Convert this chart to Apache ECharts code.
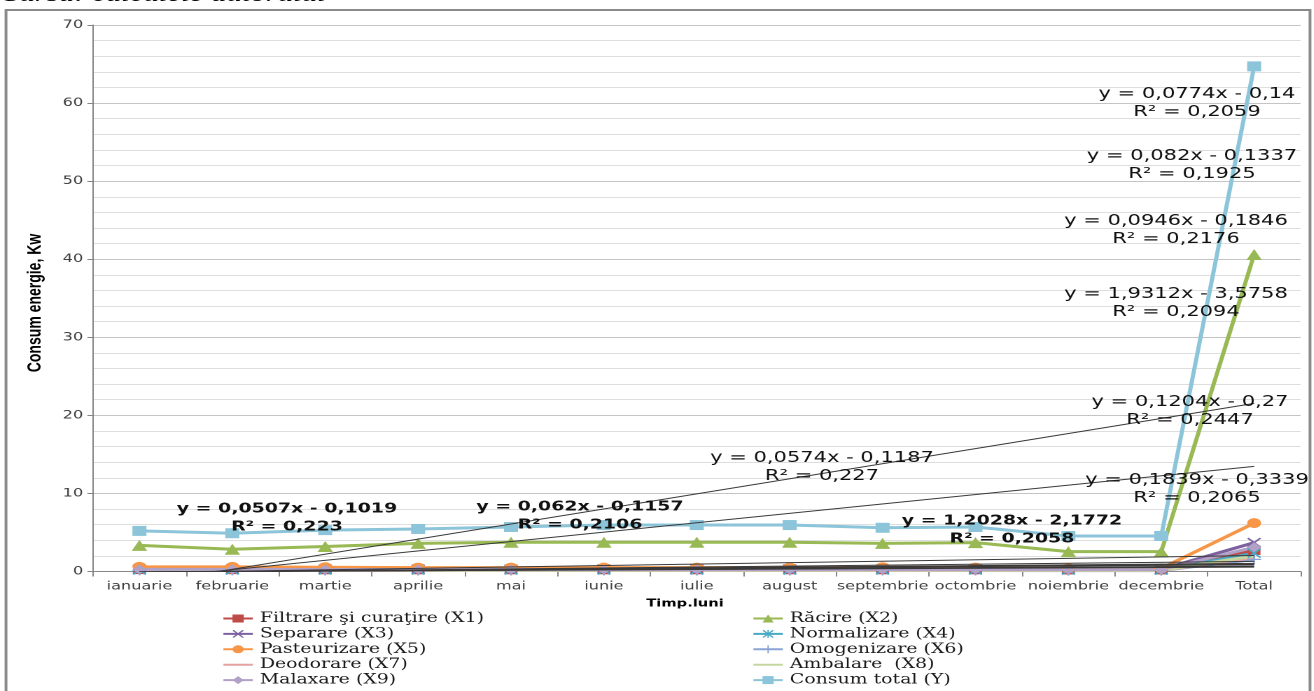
<!DOCTYPE html>
<html>
<head>
<meta charset="utf-8">
<script src="https://cdn.jsdelivr.net/npm/echarts@6/dist/echarts.min.js"></script>
<style>
  html, body { margin: 0; padding: 0; background: #fff; overflow: hidden; }
  #chart { height: 691px; transform-origin: 0 0; }
</style>
</head>
<body>
<div id="chart"></div>
<script>
// Months plus the yearly total
const months = ['ianuarie', 'februarie', 'martie', 'aprilie', 'mai', 'iunie', 'iulie',
  'august', 'septembrie', 'octombrie', 'noiembrie', 'decembrie', 'Total'];

// Energy consumption per process stage, kW
const filtrare     = [0.24, 0.24, 0.22, 0.22, 0.22, 0.22, 0.22, 0.22, 0.22, 0.22, 0.2, 0.2, 2.7];
const racire       = [3.35, 2.85, 3.2, 3.6, 3.75, 3.75, 3.75, 3.75, 3.6, 3.7, 2.55, 2.55, 40.6];
const separare     = [0.3, 0.3, 0.3, 0.3, 0.3, 0.32, 0.32, 0.32, 0.32, 0.32, 0.28, 0.28, 3.7];
const normalizare  = [0.2, 0.2, 0.19, 0.19, 0.19, 0.2, 0.2, 0.2, 0.2, 0.2, 0.17, 0.17, 2.35];
const pasteurizare = [0.6, 0.6, 0.55, 0.5, 0.5, 0.5, 0.5, 0.5, 0.55, 0.5, 0.4, 0.4, 6.2];
const omogenizare  = [0.14, 0.14, 0.13, 0.13, 0.13, 0.13, 0.13, 0.13, 0.13, 0.13, 0.12, 0.12, 1.55];
const deodorare    = [0.16, 0.16, 0.15, 0.15, 0.15, 0.15, 0.15, 0.15, 0.15, 0.15, 0.13, 0.13, 1.8];
const ambalare     = [0.17, 0.17, 0.17, 0.17, 0.17, 0.17, 0.17, 0.17, 0.17, 0.17, 0.15, 0.15, 2.0];
const malaxare     = [0.28, 0.28, 0.26, 0.26, 0.26, 0.26, 0.26, 0.26, 0.26, 0.26, 0.24, 0.24, 3.1];
const consumTotal  = [5.2, 4.9, 5.3, 5.45, 5.7, 5.95, 5.95, 5.95, 5.6, 5.7, 4.55, 4.55, 64.7];

// Linear trend lines: y = slope*x - intercept, with R²
const trendSlopes     = ['0,0507', '0,062', '0,0574', '1,2028', '0,0774', '0,082', '0,0946', '1,9312', '0,1204', '0,1839'];
const trendIntercepts = ['0,1019', '0,1157', '0,1187', '2,1772', '0,14', '0,1337', '0,1846', '3,5758', '0,27', '0,3339'];
const trendR2         = ['0,223', '0,2106', '0,227', '0,2058', '0,2059', '0,1925', '0,2176', '0,2094', '0,2447', '0,2065'];

// Y axis ticks
const yTicks = [0, 10, 20, 30, 40, 50, 60, 70];

// The whole drawing is stretched horizontally by K
const K = 1.4;
const W = 1314 / K;
const sx = x => x / K;

const dom = document.getElementById('chart');
dom.style.width = W + 'px';
dom.style.transform = 'scaleX(' + K + ')';

const num = s => parseFloat(s.replace(',', '.'));

// Placement of the equation boxes [centre x, centre y, bold]
const eqPlaces = [
  [287, 518, true], [580, 516, true], [822, 467, false], [1012, 530, true],
  [1197, 103, false], [1192, 165, false], [1176, 230, false], [1176, 303, false],
  [1190, 411, false], [1197, 489, false]
];

const XMARK = 'path://M0,1L1,0L5,4L9,0L10,1L6,5L10,9L9,10L5,6L1,10L0,9L4,5Z';
const STAR = 'path://M0,1L1,0L5,4L9,0L10,1L6,5L10,9L9,10L5,6L1,10L0,9L4,5ZM4.4,0H5.6V10H4.4Z';
const PLUS = 'path://M4.4,0H5.6V4.4H10V5.6H5.6V10H4.4V5.6H0V4.4H4.4Z';
// plain line icon for series drawn without markers
const LINE_ICON = 'path://M0,0H0.01V0.01H0ZM0,4H21V6H0ZM20.99,9.99H21V10H20.99Z';

const seriesDefs = [
  { name: 'Filtrare şi curaţire (X1)', data: filtrare, color: '#BE4B48', symbol: 'rect', size: 9 },
  { name: 'Răcire (X2)', data: racire, color: '#98B954', symbol: 'triangle', size: 11 },
  { name: 'Separare (X3)', data: separare, color: '#7D60A0', symbol: XMARK, size: 10 },
  { name: 'Normalizare (X4)', data: normalizare, color: '#46AAC5', symbol: STAR, size: 10 },
  { name: 'Pasteurizare (X5)', data: pasteurizare, color: '#F79646', symbol: 'circle', size: 10 },
  { name: 'Omogenizare (X6)', data: omogenizare, color: '#8AA4D6', symbol: PLUS, size: 10 },
  { name: 'Deodorare (X7)', data: deodorare, color: '#E6A3A2', symbol: 'none', size: 0 },
  { name: 'Ambalare  (X8)', data: ambalare, color: '#C4D79E', symbol: 'none', size: 0 },
  { name: 'Malaxare (X9)', data: malaxare, color: '#B2A1C7', symbol: 'diamond', size: 10 },
  { name: 'Consum total (Y)', data: consumTotal, color: '#8CC5DA', symbol: 'rect', size: 10 }
];

const series = seriesDefs.map(d => ({
  name: d.name,
  type: 'line',
  xAxisIndex: 0,
  yAxisIndex: 0,
  data: d.data,
  symbol: d.symbol,
  symbolSize: d.size,
  showSymbol: d.symbol !== 'none',
  lineStyle: { color: d.color, width: 3 },
  itemStyle: { color: d.color },
  emphasis: { disabled: true },
  z: 3
}));

// Trend lines drawn from the stated coefficients over x = 1 … 13
trendSlopes.forEach((s, i) => {
  const m = num(s), b = -num(trendIntercepts[i]);
  series.push({
    type: 'line',
    xAxisIndex: 1,
    yAxisIndex: 0,
    data: [[1, m * 1 + b], [months.length, m * months.length + b]],
    symbol: 'none',
    lineStyle: { color: '#3a3a3a', width: 1 },
    emphasis: { disabled: true },
    silent: true,
    z: 4
  });
});

const eqTexts = trendSlopes.map((s, i) => {
  const [x, y, bold] = eqPlaces[i];
  return {
    type: 'text',
    x: sx(x),
    y: y,
    z: 20,
    style: {
      text: 'y = ' + s + 'x - ' + trendIntercepts[i] + '\nR² = ' + trendR2[i],
      font: (bold ? 'bold 13.5px' : '15px') + ' "DejaVu Sans"',
      fill: '#111',
      align: 'center',
      verticalAlign: 'middle',
      lineHeight: 18
    }
  };
});

const legendItem = d => (d.symbol === 'none' ? { name: d.name, icon: LINE_ICON } : { name: d.name });

const legendCommon = {
  orient: 'vertical',
  itemWidth: 21,
  itemHeight: 10,
  itemGap: 1.4,
  top: 611.5,
  padding: 0,
  height: 120,
  selectedMode: false,
  textStyle: { fontFamily: '"DejaVu Serif"', fontSize: 13.5, color: '#1a1a1a', lineHeight: 13 }
};

const option = {
  animation: false,
  backgroundColor: '#fff',
  grid: { left: sx(93), right: W - sx(1300), top: 25, bottom: 691 - 571.5, containLabel: false },
  xAxis: [
    {
      type: 'category',
      data: months,
      boundaryGap: true,
      axisLine: { lineStyle: { color: '#868686', width: 1 } },
      axisTick: { show: true, length: 5, lineStyle: { color: '#868686' } },
      axisLabel: { fontFamily: '"DejaVu Sans"', fontSize: 11.5, color: '#404040', margin: 9, interval: 0 },
      splitLine: { show: false }
    },
    {
      type: 'value',
      min: 0.5,
      max: months.length + 0.5,
      show: false
    }
  ],
  yAxis: {
    type: 'value',
    min: yTicks[0],
    max: yTicks[yTicks.length - 1],
    interval: yTicks[1] - yTicks[0],
    axisLine: { show: true, lineStyle: { color: '#868686', width: 1 } },
    axisTick: { show: true, length: 4, lineStyle: { color: '#868686' } },
    axisLabel: { fontFamily: '"DejaVu Sans"', fontSize: 11.5, color: '#404040', margin: 7 },
    splitLine: { show: true, lineStyle: { color: '#c4c4c4', width: 1 } },
    minorTick: { show: false, splitNumber: 5 },
    minorSplitLine: { show: true, lineStyle: { color: '#dedede', width: 1 } }
  },
  legend: [
    Object.assign({}, legendCommon, {
      left: sx(222),
      data: [0, 2, 4, 6, 8].map(i => legendItem(seriesDefs[i]))
    }),
    Object.assign({}, legendCommon, {
      left: sx(752),
      data: [1, 3, 5, 7, 9].map(i => legendItem(seriesDefs[i]))
    })
  ],
  graphic: [
    {
      type: 'text', x: sx(4), y: 6, z: 1,
      style: {
        text: 'Sursa: calculele autorului',
        font: 'italic 22px "Liberation Serif"',
        fill: '#000', align: 'left', verticalAlign: 'bottom'
      }
    },
    {
      type: 'rect', z: 2, silent: true,
      shape: { x: sx(6), y: 10, width: sx(1310) - sx(6), height: 720 },
      style: { fill: 'none', stroke: '#8a8a8a', lineWidth: 2 }
    },
    {
      type: 'text', x: 25, y: 303, rotation: Math.PI / 2, z: 10,
      style: {
        text: 'Consum energie, Kw',
        font: 'bold 14px "Liberation Sans Narrow", "Liberation Sans"',
        fill: '#000', align: 'center', verticalAlign: 'middle'
      }
    },
    {
      type: 'text', x: sx(685), y: 604, z: 10,
      style: {
        text: 'Timp.luni',
        font: 'bold 10.5px "DejaVu Sans"',
        fill: '#000', align: 'center', verticalAlign: 'middle'
      }
    }
  ].concat(eqTexts),
  series: series
};

const chart = echarts.init(dom, null, { devicePixelRatio: 2 });
chart.setOption(option);
</script>
</body>
</html>
